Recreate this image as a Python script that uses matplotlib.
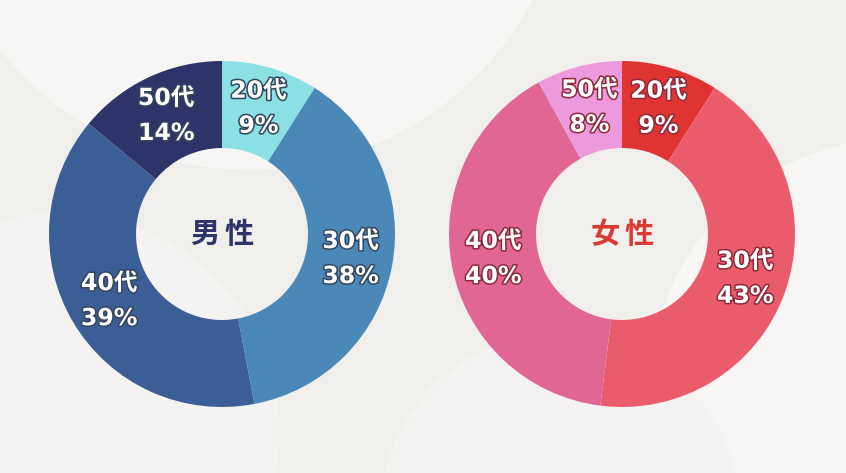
import numpy as np
import matplotlib.pyplot as plt
import matplotlib.patheffects as pe
from matplotlib.patches import Circle

plt.rcParams['font.family'] = ['DejaVu Sans', 'Noto Sans CJK JP']

# --- data ---
ages = ['20代', '30代', '40代', '50代']
male_pct = [9, 38, 39, 14]
female_pct = [9, 43, 40, 8]

male_colors = ['#8ae0e2', '#4a88b8', '#3b5e97', '#2d3468']
female_colors = ['#df3432', '#ea5c6c', '#e26693', '#ec9adb']

W, H = 846, 473
fig = plt.figure(figsize=(W / 100, H / 100), dpi=100)
ax = fig.add_axes([0, 0, 1, 1])

# background with soft shapes
fig.patch.set_facecolor('#f0efec')
ax.set_facecolor('#f0efec')
for (x, y, r, c) in [(250, 623, 320, '#f7f6f5'), (900, 85, 250, '#f7f6f5'),
                     (60, 40, 220, '#f4f3f1'), (560, -40, 180, '#f4f3f1')]:
    ax.add_patch(Circle((x, y), r, color=c, zorder=0, lw=0))


def donut(cx, cy, values, colors, title, title_color, stroke_color):
    wedges, _ = ax.pie(values, colors=colors, startangle=90, counterclock=False,
                       radius=173, center=(cx, cy),
                       wedgeprops=dict(width=87, edgecolor='none'))
    for w, age, v in zip(wedges, ages, values):
        mid = np.deg2rad((w.theta1 + w.theta2) / 2)
        lx = cx + 131 * np.cos(mid)
        ly = cy + 131 * np.sin(mid)
        for txt, dy in [(age, 17.5), (f'{v}%', -17.5)]:
            ax.text(lx, ly + dy, txt, color='white', fontsize=17, fontweight='bold',
                    ha='center', va='center', zorder=5,
                    path_effects=[pe.withStroke(linewidth=2.2, foreground=stroke_color)])
    # title in the hole, two characters spaced apart
    for ch, off in zip(title, (-17, 17)):
        ax.text(cx + off, cy, ch, color=title_color, fontsize=21, fontweight='bold',
                family='Noto Sans CJK JP', ha='center', va='center', zorder=5)


donut(222, H - 234, male_pct, male_colors, '男性', '#2d3468', '#33465e')
donut(622, H - 234, female_pct, female_colors, '女性', '#d93a33', '#8c2a3a')

ax.set_xlim(0, W)
ax.set_ylim(0, H)
ax.set_aspect('equal')
ax.axis('off')

fig.savefig('out.png', dpi=100, facecolor=fig.get_facecolor())
